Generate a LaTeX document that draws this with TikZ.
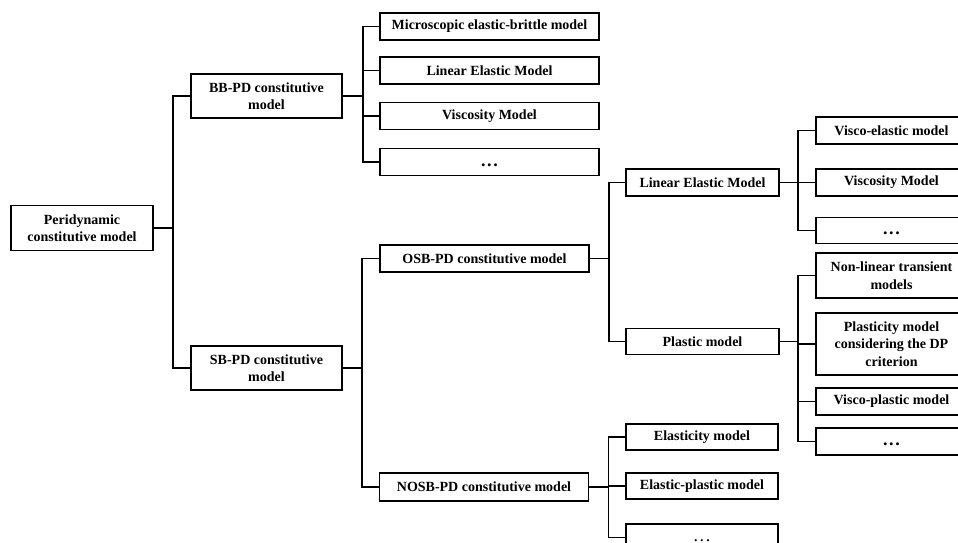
\documentclass[tikz,border=0pt]{standalone}
\usepackage{fontspec}
\setmainfont{Liberation Serif}
\newcommand\tdotsraw{{\fontsize{18}{18}\selectfont.\kern1.6pt.\kern1.6pt.}}
\newcommand\tdots{\vphantom{X}\tdotsraw}
\begin{document}
\begin{tikzpicture}[x=1pt,y=-1pt,
  box/.style={draw, line width=1.5pt, inner sep=0pt, align=center,
    font=\fontsize{14}{17.5}\selectfont\bfseries},
  sz/.style 2 args={minimum width=#1pt, minimum height=#2pt},
  link/.style={line width=1.5pt}]
\useasboundingbox (0,0) rectangle (958,543);
\clip (0,0) rectangle (958,543);
% level 0
\node[box, sz={142}{45}] (root) at (82,228) {Peridynamic\\constitutive model};
% level 1
\node[box, sz={151}{44}] (bb) at (266.5,96) {BB-PD constitutive\\model};
\node[box, sz={151}{44}] (sb) at (266.5,368) {SB-PD constitutive\\model};
% BB children
\node[box, sz={219}{27}] (micro) at (489.5,26.5) {Microscopic elastic-brittle model};
\node[box, sz={219}{27}] (lin) at (489.5,70.5) {Linear Elastic Model};
\node[box, sz={219}{27}] (visc) at (489.5,116) {Viscosity Model};
\node[box, sz={219}{27}] (bbdots) at (489.5,162) {\tdots};
% SB children
\node[box, sz={209}{27}] (osb) at (484.5,258.5) {OSB-PD constitutive model};
\node[box, sz={209}{28}] (nosb) at (484,487) {NOSB-PD constitutive model};
% OSB children
\node[box, sz={153}{27}] (lem) at (702.5,182.5) {Linear Elastic Model};
\node[box, sz={153}{26}] (plastic) at (702.5,341.5) {Plastic model};
% NOSB children
\node[box, sz={152}{26}] (elast) at (702,437) {Elasticity model};
\node[box, sz={152}{26}] (elpl) at (702,486) {Elastic-plastic model};
\node[box, sz={152}{27}, anchor=north] (ndots) at (702,523) {};
\node[inner sep=0pt, anchor=base] (ndotstxt) at (702,541) {\tdotsraw};
% LEM children
\node[box, sz={151}{27}] (ve) at (891.5,130.5) {Visco-elastic model};
\node[box, sz={151}{27}] (vm) at (891.5,182.5) {Viscosity Model};
\node[box, sz={151}{26}] (rdots1) at (891.5,230.5) {\tdots};
% Plastic children
\node[box, sz={151}{45}] (nl) at (891.5,275.5) {Non-linear transient\\models};
\node[box, sz={151}{62}] (dp) at (891.5,344) {Plasticity model\\considering the DP\\criterion};
\node[box, sz={151}{27}] (vp) at (891.5,401.5) {Visco-plastic model};
\node[box, sz={151}{27}] (rdots2) at (891.5,441.5) {\tdots};
% connectors
\foreach \c in {bb,sb} \draw[link] (root.east) -- ++(19,0) |- (\c.west);
\foreach \c in {micro,lin,visc,bbdots} \draw[link] (bb.east) -- ++(20,0) |- (\c.west);
\foreach \c in {osb,nosb} \draw[link] (sb.east) -- ++(19,0) |- (\c.west);
\foreach \c in {lem,plastic} \draw[link] (osb.east) -- ++(19,0) |- (\c.west);
\foreach \c in {elast,elpl,ndots} \draw[link] (nosb.east) -- ++(19,0) |- (\c.west);
\foreach \c in {ve,vm,rdots1} \draw[link] (lem.east) -- ++(18,0) |- (\c.west);
\foreach \c in {nl,dp,vp,rdots2} \draw[link] (plastic.east) -- ++(18,0) |- (\c.west);
\end{tikzpicture}
\end{document}
